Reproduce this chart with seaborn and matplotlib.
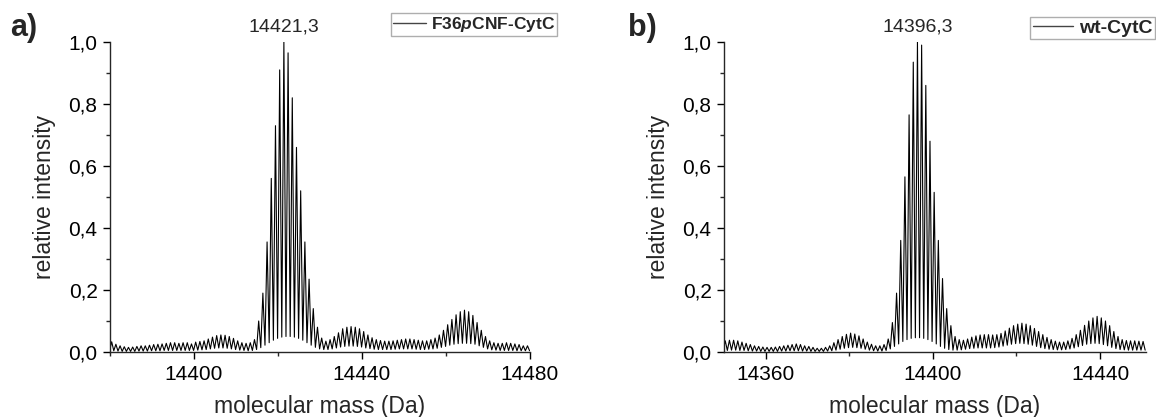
import numpy as np
import matplotlib
matplotlib.use("Agg")
import matplotlib.pyplot as plt
import seaborn as sns
from matplotlib.ticker import MultipleLocator, FuncFormatter

# panel a: F36pCNF-CytC, one isotope peak per Da starting at 14380.4
start_a = 14380.4
peaks_a = [
    0.033, 0.025, 0.020, 0.017, 0.015, 0.016, 0.018, 0.020, 0.020, 0.022,
    0.024, 0.025, 0.026, 0.028, 0.030, 0.030, 0.028, 0.030, 0.030, 0.026,
    0.032, 0.034, 0.036, 0.042, 0.048, 0.053, 0.055, 0.054, 0.050, 0.044,
    0.036, 0.030, 0.028, 0.030, 0.040, 0.100, 0.190, 0.355, 0.560, 0.730,
    0.910, 1.000, 0.965, 0.820, 0.660, 0.520, 0.355, 0.235, 0.140, 0.080,
    0.045, 0.035, 0.040, 0.050, 0.062, 0.075, 0.080, 0.082, 0.080, 0.075,
    0.066, 0.055, 0.046, 0.040, 0.037, 0.035, 0.035, 0.036, 0.038, 0.040,
    0.042, 0.042, 0.040, 0.038, 0.036, 0.036, 0.040, 0.045, 0.055, 0.070,
    0.088, 0.105, 0.120, 0.130, 0.135, 0.130, 0.118, 0.095, 0.070, 0.050,
    0.036, 0.030, 0.028, 0.028, 0.030, 0.028, 0.026, 0.024, 0.020, 0.020,
]
# valleys half a Da before each peak (plus one after the last)
troughs_a = [
    0.005, 0.004, 0.003, 0.002, 0.002, 0.002, 0.002, 0.003, 0.003, 0.003, 0.004,
    0.004, 0.004, 0.005, 0.005, 0.005, 0.005, 0.005, 0.005, 0.005, 0.005,
    0.006, 0.007, 0.008, 0.010, 0.012, 0.013, 0.013, 0.012, 0.010, 0.008,
    0.006, 0.005, 0.004, 0.005, 0.008, 0.014, 0.022, 0.030, 0.038, 0.044,
    0.048, 0.050, 0.050, 0.048, 0.044, 0.038, 0.030, 0.022, 0.015, 0.010,
    0.008, 0.008, 0.010, 0.013, 0.016, 0.018, 0.019, 0.019, 0.018, 0.016,
    0.013, 0.011, 0.009, 0.008, 0.008, 0.008, 0.008, 0.009, 0.010, 0.010,
    0.010, 0.010, 0.009, 0.008, 0.008, 0.009, 0.010, 0.012, 0.015, 0.018,
    0.022, 0.025, 0.027, 0.028, 0.028, 0.027, 0.025, 0.020, 0.015, 0.010,
    0.007, 0.006, 0.005, 0.005, 0.005, 0.005, 0.004, 0.004, 0.004, 0.004,
]
apex_a = 14421.3
label_a = "F36$\\mathit{p}$CNF-CytC"

# panel b: wt-CytC, one isotope peak per Da starting at 14350.3
start_b = 14350.3
peaks_b = [
    0.036, 0.038, 0.038, 0.036, 0.032, 0.028, 0.024, 0.020, 0.018, 0.016,
    0.015, 0.015, 0.016, 0.018, 0.020, 0.022, 0.024, 0.026, 0.024, 0.020,
    0.018, 0.015, 0.012, 0.012, 0.015, 0.020, 0.030, 0.040, 0.050, 0.057,
    0.061, 0.058, 0.052, 0.042, 0.032, 0.025, 0.020, 0.020, 0.024, 0.042,
    0.095, 0.190, 0.360, 0.565, 0.765, 0.935, 1.000, 0.990, 0.860, 0.680,
    0.515, 0.360, 0.237, 0.140, 0.085, 0.050, 0.040, 0.038, 0.042, 0.048,
    0.052, 0.055, 0.056, 0.056, 0.055, 0.056, 0.060, 0.068, 0.077, 0.085,
    0.090, 0.093, 0.090, 0.085, 0.076, 0.066, 0.056, 0.047, 0.040, 0.035,
    0.032, 0.032, 0.036, 0.044, 0.056, 0.070, 0.086, 0.100, 0.110, 0.115,
    0.110, 0.100, 0.085, 0.066, 0.050, 0.040, 0.037, 0.036, 0.036, 0.035,
    0.034,
]
troughs_b = [
    0.006, 0.005, 0.006, 0.006, 0.005, 0.005, 0.004, 0.003, 0.003, 0.002, 0.002,
    0.002, 0.002, 0.002, 0.003, 0.003, 0.004, 0.004, 0.004, 0.003, 0.003,
    0.002, 0.002, 0.002, 0.002, 0.003, 0.004, 0.006, 0.009, 0.012, 0.014,
    0.015, 0.014, 0.012, 0.009, 0.006, 0.004, 0.003, 0.003, 0.005, 0.010,
    0.018, 0.026, 0.034, 0.040, 0.044, 0.046, 0.046, 0.044, 0.040, 0.034,
    0.026, 0.018, 0.012, 0.008, 0.006, 0.006, 0.007, 0.009, 0.011, 0.012,
    0.013, 0.013, 0.013, 0.013, 0.014, 0.016, 0.019, 0.022, 0.025, 0.027,
    0.028, 0.027, 0.025, 0.022, 0.018, 0.014, 0.011, 0.009, 0.008, 0.007,
    0.007, 0.008, 0.010, 0.013, 0.017, 0.021, 0.025, 0.027, 0.028, 0.027,
    0.024, 0.020, 0.015, 0.011, 0.008, 0.007, 0.006, 0.006, 0.006, 0.006,
    0.006,
]
apex_b = 14396.3
label_b = "wt-CytC"


def spectrum(start, peaks, troughs):
    pos = start + np.arange(len(peaks))
    xs, ys = [pos[0] - 0.5], [troughs[0]]
    for i, p in enumerate(peaks):
        xs += [pos[i], pos[i] + 0.5]
        ys += [p, troughs[i + 1]]
    return np.array(xs), np.array(ys)


sns.set_style("ticks")
plt.rcParams["font.family"] = ["Liberation Sans", "DejaVu Sans"]
plt.rcParams["mathtext.fontset"] = "custom"
plt.rcParams["mathtext.it"] = "Liberation Sans:italic:bold"
plt.rcParams["mathtext.rm"] = "Liberation Sans:bold"

fig = plt.figure(figsize=(11.56, 4.17), dpi=100)
W, H = 1156, 417

panels = [
    dict(start=start_a, peaks=peaks_a, troughs=troughs_a, apex=apex_a,
         label=label_a, xlim=(14380, 14480), rect=(110, 420), tag="a)",
         tag_x=10, leg=(557, 13, 12.5, 1.9)),
    dict(start=start_b, peaks=peaks_b, troughs=troughs_b, apex=apex_b,
         label=label_b, xlim=(14350, 14451), rect=(724, 422), tag="b)",
         tag_x=628, leg=(1155, 17, 14, 2.1)),
]

for p in panels:
    left, width = p["rect"]
    ax = fig.add_axes([left / W, 65 / H, width / W, 310 / H])
    xs, ys = spectrum(p["start"], p["peaks"], p["troughs"])
    sns.lineplot(x=xs, y=ys, ax=ax, sort=False, estimator=None,
                 color="black", linewidth=0.8, label=p["label"])
    ax.set_xlim(*p["xlim"])
    ax.set_ylim(0, 1.0)
    sns.despine(ax=ax)
    for s in ["left", "bottom"]:
        ax.spines[s].set_linewidth(1.0)
    ax.xaxis.set_major_locator(MultipleLocator(40))
    ax.xaxis.set_minor_locator(MultipleLocator(20))
    ax.yaxis.set_major_locator(MultipleLocator(0.2))
    ax.yaxis.set_minor_locator(MultipleLocator(0.1))
    ax.yaxis.set_major_formatter(FuncFormatter(lambda v, _: f"{v:.1f}".replace(".", ",")))
    ax.tick_params(which="major", direction="out", length=5, width=1,
                   labelsize=15, colors="black", pad=4)
    ax.tick_params(which="minor", direction="out", length=3, width=1)
    ax.set_xlabel("molecular mass (Da)", fontsize=16.5, labelpad=8)
    ax.set_ylabel("relative intensity", fontsize=16.5, labelpad=9)

    top = int(np.argmax(p["peaks"]))
    ax.annotate(f"{p['apex']:.1f}".replace(".", ","),
                xy=(p["start"] + top, max(p["peaks"])), xytext=(0, 5),
                textcoords="offset points", ha="center", va="bottom",
                fontsize=14, annotation_clip=False)

    leg_right, leg_top, leg_size, leg_handle = p["leg"]
    leg = ax.legend(loc="upper right", bbox_to_anchor=(leg_right / W, 1 - leg_top / H),
                    bbox_transform=fig.transFigure, frameon=True, fancybox=False,
                    handlelength=leg_handle, handletextpad=0.3, borderpad=0.12,
                    borderaxespad=0, prop={"weight": "bold", "size": leg_size})
    leg.get_frame().set_edgecolor("#9a9a9a")
    leg.get_frame().set_linewidth(1.0)
    for line in leg.get_lines():
        line.set_color("#444444")
        line.set_linewidth(1.0)

    fig.text(p["tag_x"] / W, 1 - 28 / H, p["tag"], fontsize=22, fontweight="bold",
             va="center", ha="left")

fig.savefig("out.png", dpi=100)
